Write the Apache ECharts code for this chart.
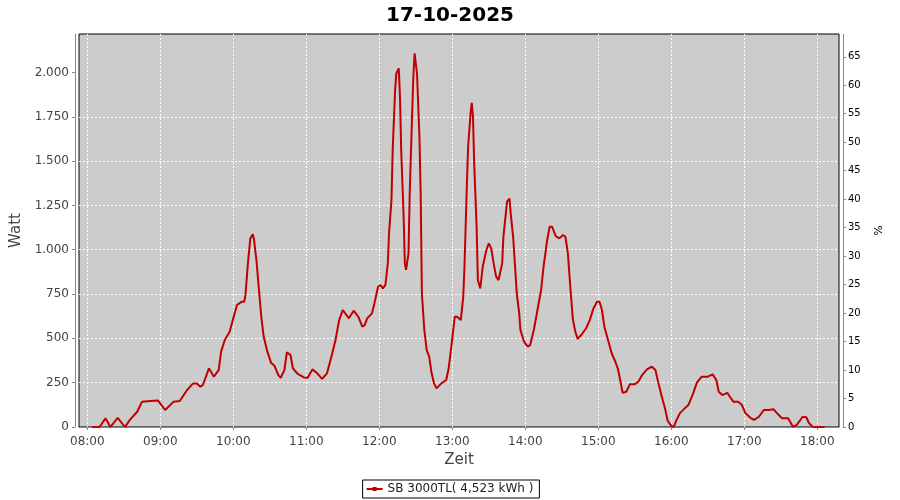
<!DOCTYPE html>
<html>
<head>
<meta charset="utf-8">
<script src="https://cdn.jsdelivr.net/npm/echarts@6/dist/echarts.min.js"></script>
<style>
html, body { margin: 0; padding: 0; background: #fff; }
#chart { width: 900px; height: 500px; }
</style>
</head>
<body>
<div id="chart"></div>
<script>
const day = '2025-10-17'
const title = '17-10-2025'
const seriesName = 'SB 3000TL( 4,523 kWh )'

const times = [
  '08:04', '08:10', '08:15', '08:19', '08:25', '08:31', '08:35', '08:41', '08:45', '08:52',
  '08:58', '09:04', '09:11', '09:16', '09:22', '09:27', '09:30', '09:33', '09:35', '09:40',
  '09:44', '09:48', '09:50', '09:53', '09:57', '10:00', '10:03', '10:07', '10:09', '10:10',
  '10:12', '10:14', '10:16', '10:17', '10:19', '10:21', '10:23', '10:25', '10:28', '10:31',
  '10:34', '10:37', '10:39', '10:42', '10:44', '10:47', '10:49', '10:53', '10:58', '11:01',
  '11:05', '11:09', '11:13', '11:17', '11:21', '11:24', '11:27', '11:30', '11:35', '11:39',
  '11:43', '11:46', '11:48', '11:50', '11:54', '11:56', '11:59', '12:01', '12:03', '12:05',
  '12:07', '12:08', '12:10', '12:11', '12:13', '12:14', '12:16', '12:17', '12:18', '12:20',
  '12:21', '12:22', '12:24', '12:25', '12:27', '12:28', '12:29', '12:30', '12:31', '12:33',
  '12:34', '12:35', '12:37', '12:39', '12:41', '12:43', '12:45', '12:47', '12:51', '12:55',
  '12:57', '13:00', '13:02', '13:04', '13:07', '13:09', '13:10', '13:12', '13:13', '13:15',
  '13:16', '13:17', '13:18', '13:20', '13:21', '13:23', '13:25', '13:28', '13:30', '13:32',
  '13:34', '13:36', '13:38', '13:41', '13:42', '13:45', '13:47', '13:48', '13:50', '13:53',
  '13:55', '13:56', '13:59', '14:02', '14:04', '14:07', '14:10', '14:13', '14:15', '14:18',
  '14:20', '14:22', '14:25', '14:28', '14:31', '14:33', '14:35', '14:37', '14:39', '14:41',
  '14:43', '14:46', '14:50', '14:53', '14:56', '14:59', '15:01', '15:03', '15:05', '15:08',
  '15:11', '15:14', '15:16', '15:18', '15:20', '15:23', '15:26', '15:30', '15:33', '15:36',
  '15:40', '15:44', '15:47', '15:49', '15:52', '15:55', '15:57', '16:00', '16:02', '16:04',
  '16:07', '16:11', '16:14', '16:18', '16:21', '16:25', '16:30', '16:34', '16:37', '16:39',
  '16:42', '16:46', '16:49', '16:51', '16:55', '16:58', '17:01', '17:05', '17:08', '17:12',
  '17:16', '17:20', '17:24', '17:27', '17:31', '17:36', '17:40', '17:43', '17:48', '17:51',
  '17:53', '17:56', '18:00', '18:06'
]

const watt = [
  0, 0, 49, 0, 52, 0, 40, 86, 143, 147,
  150, 96, 143, 147, 209, 246, 246, 227, 237, 331,
  284, 321, 425, 491, 537, 613, 688, 707, 707, 745,
  923, 1064, 1087, 1059, 942, 782, 622, 509, 425, 363,
  344, 293, 278, 321, 421, 406, 331, 299, 280, 276,
  325, 303, 271, 303, 406, 491, 603, 660, 613, 656,
  619, 566, 575, 613, 641, 698, 791, 801, 782, 801,
  923, 1092, 1280, 1562, 1901, 1995, 2023, 1863, 1562, 1186,
  923, 886, 980, 1318, 1769, 1976, 2108, 2117, 1995, 1637,
  1318, 754, 547, 434, 397, 303, 246, 218, 246, 265,
  330, 500, 622, 622, 603, 735, 904, 1374, 1581, 1769,
  1829, 1750, 1487, 1130, 829, 782, 904, 998, 1036, 1008,
  923, 848, 829, 923, 1073, 1271, 1288, 1205, 1073, 754,
  641, 547, 481, 453, 462, 547, 660, 773, 904, 1055,
  1130, 1130, 1077, 1064, 1083, 1073, 980, 791, 612, 540,
  497, 519, 557, 603, 669, 707, 707, 660, 566, 491,
  416, 368, 331, 265, 193, 199, 241, 241, 256, 293,
  325, 340, 321, 260, 176, 100, 35, 6, 0, 35,
  77, 105, 124, 190, 250, 284, 284, 297, 265, 199,
  180, 193, 162, 143, 143, 124, 77, 52, 40, 58,
  96, 96, 100, 77, 49, 49, 2, 11, 58, 55,
  24, 2, 0, 0
]

const wattTicks = [0, 250, 500, 750, 1000, 1250, 1500, 1750, 2000]
const percentTicks = [0, 5, 10, 15, 20, 25, 30, 35, 40, 45, 50, 55, 60, 65]

const chart = echarts.init(document.getElementById('chart'), null, { renderer: 'canvas' })

const toTime = t => echarts.time.parse(day + ' ' + t).getTime()
const seriesData = times.map((t, i) => [day + ' ' + t, watt[i]])

// German thousands separator: 2.000
function fmtWatt (v) {
  if (v >= 1000) return Math.floor(v / 1000) + '.' + String(v % 1000).padStart(3, '0')
  return String(v)
}

const labelFont = 'DejaVu Sans'
const gridLine = { color: '#fff', type: [2, 2], width: 1 }

const option = {
  animation: false,
  backgroundColor: '#fff',
  textStyle: { fontFamily: labelFont },
  title: {
    text: title,
    left: 'center',
    top: 1,
    textStyle: { fontFamily: labelFont, fontSize: 20, fontWeight: 'bold', color: '#000' }
  },
  legend: {
    bottom: 2,
    left: 'center',
    data: [seriesName],
    icon: 'path://M0,3h16v2h-16z M6,2h4v4h-4z',
    borderColor: '#000',
    borderWidth: 1,
    borderRadius: 0,
    padding: [3, 6, 3, 4],
    itemWidth: 16,
    itemHeight: 5,
    itemGap: 4,
    textStyle: { fontSize: 12, color: '#222', fontFamily: labelFont }
  },
  grid: {
    left: 79,
    right: 61,
    top: 34,
    bottom: 73,
    show: true,
    backgroundColor: '#cccccc',
    borderColor: '#000',
    borderWidth: 1
  },
  xAxis: {
    type: 'time',
    min: toTime('07:53:11'),
    max: toTime('18:17:50'),
    minInterval: 3600 * 1000,
    maxInterval: 3600 * 1000,
    offset: 4,
    name: 'Zeit',
    nameLocation: 'middle',
    nameGap: 21,
    nameTextStyle: { fontSize: 15, color: '#444', fontFamily: labelFont },
    axisLine: { show: true, lineStyle: { color: '#888' } },
    axisTick: { show: true, length: 3, lineStyle: { color: '#888' } },
    axisLabel: {
      formatter: '{HH}:{mm}',
      color: '#444',
      fontSize: 12,
      margin: 5,
      showMinLabel: false,
      showMaxLabel: false
    },
    splitLine: { show: true, showMinLine: false, showMaxLine: false, lineStyle: gridLine }
  },
  yAxis: [
    {
      type: 'value',
      position: 'left',
      min: 0,
      max: 2217,
      interval: 250,
      offset: 4,
      name: 'Watt',
      nameLocation: 'middle',
      nameGap: 45,
      nameTextStyle: { fontSize: 15, color: '#444', fontFamily: labelFont },
      axisLine: { show: true, lineStyle: { color: '#888' } },
      axisTick: { show: true, length: 3, lineStyle: { color: '#888' }, customValues: wattTicks },
      axisLabel: { customValues: wattTicks, formatter: fmtWatt, color: '#444', fontSize: 12, margin: 6 },
      splitLine: { show: true, showMinLine: false, showMaxLine: false, lineStyle: gridLine }
    },
    {
      type: 'value',
      position: 'right',
      min: 0,
      max: 69,
      interval: 5,
      offset: 4,
      name: '%',
      nameLocation: 'middle',
      nameRotate: -90,
      nameGap: 26,
      nameTextStyle: { fontSize: 11, color: '#000', fontFamily: labelFont },
      axisLine: { show: true, lineStyle: { color: '#888' } },
      axisTick: { show: true, length: 3, lineStyle: { color: '#888' }, customValues: percentTicks },
      axisLabel: { customValues: percentTicks, color: '#000', fontSize: 10, margin: 5 },
      splitLine: { show: false }
    }
  ],
  series: [
    {
      name: seriesName,
      type: 'line',
      yAxisIndex: 0,
      symbol: 'none',
      data: seriesData,
      lineStyle: { color: '#c00000', width: 2 },
      itemStyle: { color: '#c00000' }
    }
  ]
}

chart.setOption(option)
</script>
</body>
</html>
